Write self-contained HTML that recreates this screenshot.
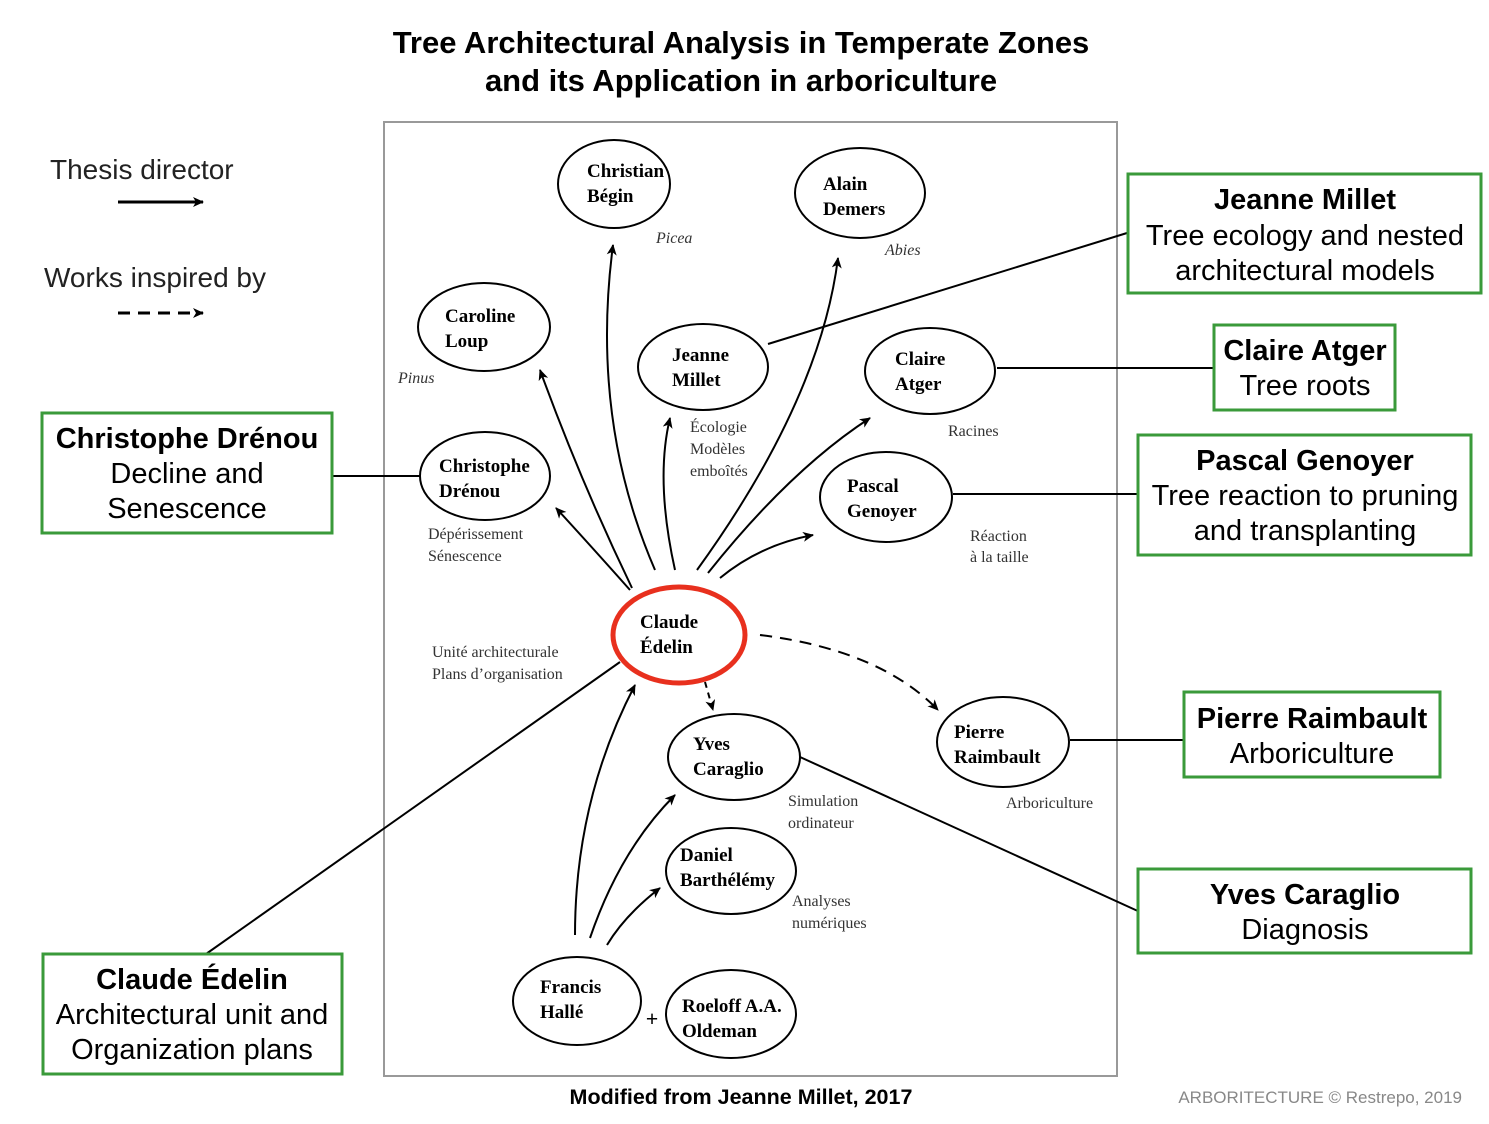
<!DOCTYPE html>
<html><head><meta charset="utf-8"><style>
body{margin:0;background:#fff}
svg{display:block}
.t{font-family:"Liberation Sans",sans-serif}
.s{font-family:"Liberation Serif",serif}
</style></head><body>
<svg width="1489" height="1124" viewBox="0 0 1489 1124" xmlns="http://www.w3.org/2000/svg">
<defs>
<marker id="a" markerWidth="12" markerHeight="12" refX="10" refY="5" orient="auto" markerUnits="userSpaceOnUse"><path d="M0,0 L11,5 L0,10 L3,5 z" fill="#000"/></marker>
</defs>
<text class="t" x="741" y="53" font-size="31" font-weight="bold" text-anchor="middle">Tree Architectural Analysis in Temperate Zones</text>
<text class="t" x="741" y="91" font-size="31" font-weight="bold" text-anchor="middle">and its Application in arboriculture</text>

<text class="t" x="50" y="179" font-size="28" fill="#222">Thesis director</text>
<line x1="118" y1="202" x2="203" y2="202" stroke="#000" stroke-width="3" marker-end="url(#a)"/>
<text class="t" x="44" y="287" font-size="28" fill="#222">Works inspired by</text>
<line x1="118" y1="313" x2="203" y2="313" stroke="#000" stroke-width="3" stroke-dasharray="12,8" marker-end="url(#a)"/>

<rect x="384" y="122" width="733" height="954" fill="none" stroke="#999" stroke-width="2"/>

<g fill="none" stroke="#000" stroke-width="2">
<ellipse cx="614" cy="184" rx="56" ry="44"/>
<ellipse cx="860" cy="193" rx="65" ry="45"/>
<ellipse cx="484" cy="327" rx="66" ry="44"/>
<ellipse cx="703" cy="367" rx="65" ry="43"/>
<ellipse cx="930" cy="371" rx="65" ry="43"/>
<ellipse cx="485" cy="476" rx="65" ry="44"/>
<ellipse cx="886" cy="497" rx="66" ry="45"/>
<ellipse cx="734" cy="757" rx="66" ry="43"/>
<ellipse cx="1003" cy="742" rx="66" ry="45"/>
<ellipse cx="731" cy="871" rx="65" ry="43"/>
<ellipse cx="577" cy="1001" rx="64" ry="44"/>
<ellipse cx="731" cy="1014" rx="65" ry="44"/>
</g>
<ellipse cx="679" cy="635" rx="66" ry="48" fill="none" stroke="#e8301e" stroke-width="5"/>

<g fill="none" stroke="#000" stroke-width="2" marker-end="url(#a)">
<path d="M632,588 Q580,480 540,370"/>
<path d="M655,570 Q590,420 613,245"/>
<path d="M675,570 Q655,480 670,418"/>
<path d="M697,570 Q820,400 838,258"/>
<path d="M708,573 Q790,470 870,418"/>
<path d="M720,578 Q760,545 813,535"/>
<path d="M630,590 Q590,545 556,508"/>
<path d="M575,935 Q575,800 635,685"/>
<path d="M590,938 Q620,850 675,795"/>
<path d="M607,945 Q625,915 660,888"/>
<path d="M760,635 Q880,650 938,710" stroke-dasharray="12,8"/>
<path d="M705,682 L713,710" stroke-dasharray="6,5"/>
</g>

<g class="s" font-size="19" font-weight="bold">
<text x="587" y="177">Christian</text><text x="587" y="202">Bégin</text>
<text x="823" y="190">Alain</text><text x="823" y="215">Demers</text>
<text x="445" y="322">Caroline</text><text x="445" y="347">Loup</text>
<text x="672" y="361">Jeanne</text><text x="672" y="386">Millet</text>
<text x="895" y="365">Claire</text><text x="895" y="390">Atger</text>
<text x="439" y="472">Christophe</text><text x="439" y="497">Drénou</text>
<text x="847" y="492">Pascal</text><text x="847" y="517">Genoyer</text>
<text x="640" y="628">Claude</text><text x="640" y="653">Édelin</text>
<text x="693" y="750">Yves</text><text x="693" y="775">Caraglio</text>
<text x="954" y="738">Pierre</text><text x="954" y="763">Raimbault</text>
<text x="680" y="861">Daniel</text><text x="680" y="886">Barthélémy</text>
<text x="540" y="993">Francis</text><text x="540" y="1018">Hallé</text>
<text x="682" y="1012">Roeloff A.A.</text><text x="682" y="1037">Oldeman</text>
</g>
<text class="s" x="652" y="1026" font-size="22" font-weight="bold" text-anchor="middle">+</text>
<g class="s" font-size="16" fill="#333">
<text x="656" y="243" font-style="italic">Picea</text>
<text x="885" y="255" font-style="italic">Abies</text>
<text x="398" y="383" font-style="italic">Pinus</text>
<text x="690" y="432">Écologie</text><text x="690" y="454">Modèles</text><text x="690" y="476">emboîtés</text>
<text x="948" y="436">Racines</text>
<text x="428" y="539">Dépérissement</text><text x="428" y="561">Sénescence</text>
<text x="970" y="541">Réaction</text><text x="970" y="562">à la taille</text>
<text x="432" y="657">Unité architecturale</text><text x="432" y="679">Plans d’organisation</text>
<text x="788" y="806">Simulation</text><text x="788" y="828">ordinateur</text>
<text x="1006" y="808">Arboriculture</text>
<text x="792" y="906">Analyses</text><text x="792" y="928">numériques</text>
</g>

<g stroke="#000" stroke-width="2" fill="none">
<line x1="1127" y1="233" x2="768" y2="344"/>
<line x1="997" y1="368" x2="1214" y2="368"/>
<line x1="953" y1="494" x2="1138" y2="494"/>
<line x1="1070" y1="740" x2="1184" y2="740"/>
<line x1="800" y1="757" x2="1140" y2="912"/>
<line x1="332" y1="476" x2="420" y2="476"/>
<line x1="206" y1="954" x2="620" y2="662"/>
</g>

<g fill="#fff" stroke="#3a9a3a" stroke-width="3">
<rect x="1128" y="174" width="353" height="119"/>
<rect x="1214" y="325" width="181" height="85"/>
<rect x="1138" y="435" width="333" height="120"/>
<rect x="1184" y="692" width="256" height="85"/>
<rect x="1138" y="869" width="333" height="84"/>
<rect x="42" y="413" width="290" height="120"/>
<rect x="43" y="954" width="299" height="120"/>
</g>
<g class="t" font-size="29" text-anchor="middle">
<text x="1305" y="209" font-weight="bold">Jeanne Millet</text>
<text x="1305" y="245">Tree ecology and nested</text>
<text x="1305" y="280">architectural models</text>
<text x="1305" y="360" font-weight="bold">Claire Atger</text>
<text x="1305" y="395">Tree roots</text>
<text x="1305" y="470" font-weight="bold">Pascal Genoyer</text>
<text x="1305" y="505">Tree reaction to pruning</text>
<text x="1305" y="540">and transplanting</text>
<text x="1312" y="728" font-weight="bold">Pierre Raimbault</text>
<text x="1312" y="763">Arboriculture</text>
<text x="1305" y="904" font-weight="bold">Yves Caraglio</text>
<text x="1305" y="939">Diagnosis</text>
<text x="187" y="448" font-weight="bold">Christophe Drénou</text>
<text x="187" y="483">Decline and</text>
<text x="187" y="518">Senescence</text>
<text x="192" y="989" font-weight="bold">Claude Édelin</text>
<text x="192" y="1024">Architectural unit and</text>
<text x="192" y="1059">Organization plans</text>
</g>

<text class="t" x="741" y="1104" font-size="21.5" font-weight="bold" text-anchor="middle">Modified from Jeanne Millet, 2017</text>
<text class="t" x="1462" y="1103" font-size="17" fill="#888" text-anchor="end">ARBORITECTURE © Restrepo, 2019</text>
</svg>
</body></html>
